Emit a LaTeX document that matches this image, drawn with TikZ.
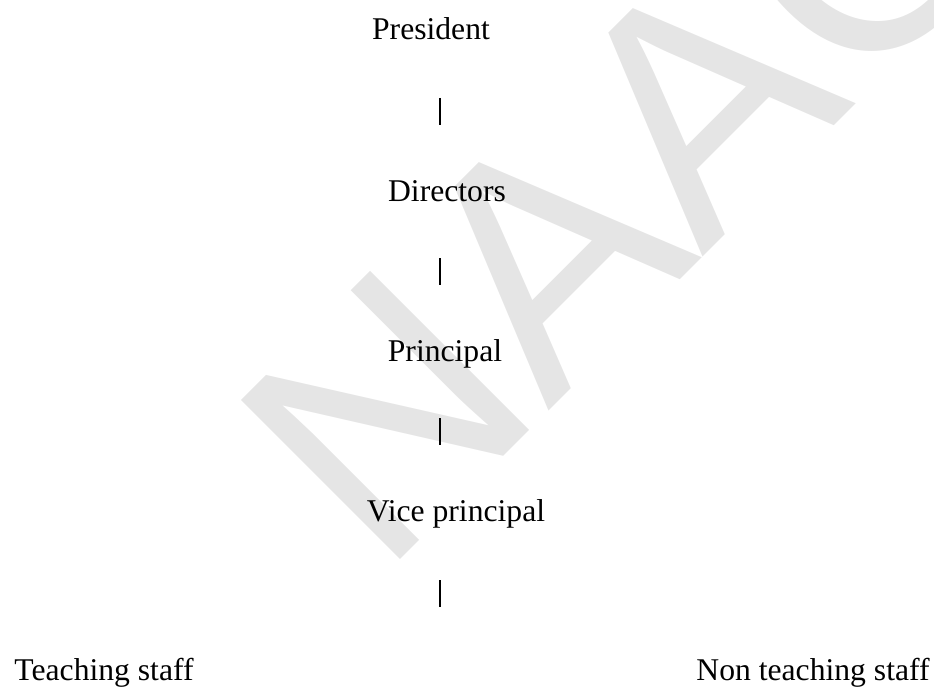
\documentclass[tikz,border=0pt]{standalone}
\usepackage{fontspec}
\setmainfont{Liberation Serif}
\newfontfamily\marksans{Liberation Sans}
\begin{document}
\begin{tikzpicture}[x=0.01cm,y=0.01cm]
            \tikzstyle{every node}+=[inner sep=0pt]
            \tikzstyle{post}=[anchor=base,font=\fontsize{9}{11}\selectfont]
            \tikzstyle{bar}=[black,line width=0.5pt]
            \useasboundingbox (0,0) rectangle (934,-688);
            \node [anchor=base west,rotate=45,text=black!10,font=\marksans\fontsize{93}{93}\selectfont] (naac) at (381,-579) {NAAC};
            \node [post] (pres) at (431,-40) {President};
            \node [post] (dir) at (447,-201) {Directors};
            \node [post] (prin) at (445,-361) {Principal};
            \node [post] (vice) at (456,-521) {Vice principal};
            \node [post] (teach) at (104,-680) {Teaching staff};
            \node [post] (nonteach) at (813,-680) {Non teaching staff};
            \foreach \y in {98,258,418,580}
                \draw [bar] (440,-\y) -- (440,-\y-27);
        \end{tikzpicture}
\end{document}
